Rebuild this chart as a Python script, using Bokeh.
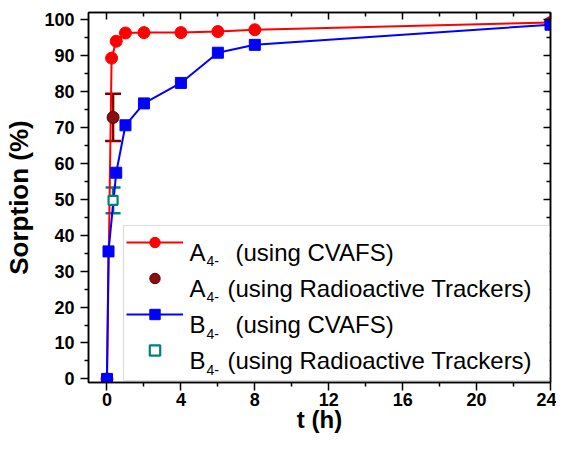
import numpy as np
from bokeh.plotting import figure
from bokeh.models import (Range1d, LinearAxis, FixedTicker, Whisker, TeeHead,
                          ColumnDataSource, Legend, LegendItem, Label, BoxAnnotation,
                          CustomJSTickFormatter)
from bokeh.core.properties import value
from bokeh.embed import file_html
from bokeh.resources import INLINE

# ---------------- data ----------------
t_a_cvafs = [0, 0.25, 0.5, 1, 2, 4, 6, 8, 24]
sorp_a_cvafs = [0, 89.3, 94.0, 96.3, 96.4, 96.4, 96.7, 97.2, 99.2]
t_b_cvafs = [0, 0.083, 0.5, 1, 2, 4, 6, 8, 24]
sorp_b_cvafs = [0, 35.5, 57.4, 70.6, 76.7, 82.4, 90.8, 93.0, 98.6]
t_a_rad = [0.33]
sorp_a_rad = [72.8]
err_a_rad = [6.6]
t_b_rad = [0.33]
sorp_b_rad = [49.7]
err_b_rad = [3.6]

x_major = [0, 4, 8, 12, 16, 20, 24]
x_minor = [2, 6, 10, 14, 18, 22]
y_major = [0, 10, 20, 30, 40, 50, 60, 70, 80, 90, 100]
y_minor = [5, 15, 25, 35, 45, 55, 65, 75, 85, 95]

legend_letters = ["A", "A", "B", "B"]
legend_sub = "4-"
legend_texts = ["(using CVAFS)", "(using Radioactive Trackers)",
                "(using CVAFS)", "(using Radioactive Trackers)"]

FONT = "Liberation Sans"
RED = "#ff0000"
BLUE = "#0000ff"
DARKRED = "#800000"
TEAL = "#008080"

p = figure(width=556, height=435, x_range=Range1d(-1, 24), y_range=Range1d(-1, 102),
           output_backend="svg", toolbar_location=None,
           min_border_left=88, min_border_right=6, min_border_top=12, min_border_bottom=40)
p.xgrid.visible = False
p.ygrid.visible = False
p.outline_line_color = "black"
p.outline_line_width = 1.5
p.background_fill_color = "white"
p.border_fill_color = "white"

ticker_x = FixedTicker(ticks=x_major, minor_ticks=x_minor)
ticker_y = FixedTicker(ticks=y_major, minor_ticks=y_minor)

# main axes
xa = p.xaxis[0]
ya = p.yaxis[0]
for ax, tk in ((xa, ticker_x), (ya, ticker_y)):
    ax.ticker = tk
    ax.axis_line_width = 1.5
    ax.major_tick_line_width = 1.5
    ax.minor_tick_line_width = 1.5
    ax.major_tick_in = 0
    ax.major_tick_out = 8
    ax.minor_tick_in = 0
    ax.minor_tick_out = 4
    ax.major_label_text_font = FONT
    ax.major_label_text_font_style = "bold"
    ax.major_label_text_font_size = "18px"
    ax.major_label_text_color = "black"
    ax.axis_label_text_font = FONT
    ax.axis_label_text_font_style = "bold"
    ax.axis_label_text_color = "black"

xa.axis_label = "t (h)"
xa.axis_label_text_font_size = "24px"
xa.major_label_standoff = 2
xa.axis_label_standoff = -3
ya.axis_label = "Sorption (%)"
ya.axis_label_text_font_size = "26px"
ya.major_label_standoff = 6
ya.axis_label_standoff = 7

# mirrored axes with inward ticks, no labels
blank = CustomJSTickFormatter(code="return ''")
top = LinearAxis(ticker=FixedTicker(ticks=x_major, minor_ticks=x_minor), formatter=blank)
right = LinearAxis(ticker=FixedTicker(ticks=y_major, minor_ticks=y_minor), formatter=blank)
for ax in (top, right):
    ax.axis_line_width = 1.5
    ax.major_tick_line_width = 1.5
    ax.minor_tick_line_width = 1.5
    ax.major_tick_in = 7
    ax.major_tick_out = 0
    ax.minor_tick_in = 4
    ax.minor_tick_out = 0
    ax.major_label_text_font_size = "1px"
    ax.major_label_standoff = 0
    ax.axis_label_standoff = 0
p.add_layout(top, "above")
p.add_layout(right, "right")

# data series
src_a = ColumnDataSource(dict(t=t_a_cvafs, s=sorp_a_cvafs))
src_b = ColumnDataSource(dict(t=t_b_cvafs, s=sorp_b_cvafs))
la = p.line("t", "s", source=src_a, line_color=RED, line_width=2)
ma = p.scatter("t", "s", source=src_a, marker="circle", size=12, fill_color=RED, line_color=RED)
lb = p.line("t", "s", source=src_b, line_color=BLUE, line_width=2)
mb = p.scatter("t", "s", source=src_b, marker="square", size=11, fill_color=BLUE, line_color=BLUE)

src_ar = ColumnDataSource(dict(t=t_a_rad, s=sorp_a_rad,
                               up=[v + e for v, e in zip(sorp_a_rad, err_a_rad)],
                               lo=[v - e for v, e in zip(sorp_a_rad, err_a_rad)]))
src_br = ColumnDataSource(dict(t=t_b_rad, s=sorp_b_rad,
                               up=[v + e for v, e in zip(sorp_b_rad, err_b_rad)],
                               lo=[v - e for v, e in zip(sorp_b_rad, err_b_rad)]))
wa = Whisker(source=src_ar, base="t", upper="up", lower="lo", dimension="height",
             line_color=DARKRED, line_width=2.5,
             upper_head=TeeHead(size=16, line_color=DARKRED, line_width=2.5),
             lower_head=TeeHead(size=16, line_color=DARKRED, line_width=2.5))
wb = Whisker(source=src_br, base="t", upper="up", lower="lo", dimension="height",
             line_color=TEAL, line_width=2.5,
             upper_head=TeeHead(size=15, line_color=TEAL, line_width=2.5),
             lower_head=TeeHead(size=15, line_color=TEAL, line_width=2.5))
p.add_layout(wa)
p.add_layout(wb)
mar = p.scatter("t", "s", source=src_ar, marker="circle", size=12,
                fill_color="#8a1010", line_color="#5a0000", line_width=1)
mbr = p.scatter("t", "s", source=src_br, marker="square", size=9,
                fill_color="white", line_color=TEAL, line_width=2.2)

# legend frame
box = BoxAnnotation(left=123, right=549, top=225, bottom=380,
                    left_units="canvas", right_units="canvas",
                    top_units="canvas", bottom_units="canvas",
                    fill_color="white", fill_alpha=1.0,
                    line_color="#8c8c8c", line_width=1.2)
p.add_layout(box)

legend = Legend(items=[
    LegendItem(label=value(" "), renderers=[la, ma]),
    LegendItem(label=value(" "), renderers=[mar]),
    LegendItem(label=value(" "), renderers=[lb, mb]),
    LegendItem(label=value(" "), renderers=[mbr]),
], location=(34, 15), glyph_width=57, glyph_height=26, label_height=26,
   spacing=10, padding=4, margin=0, label_standoff=0, label_width=0,
   border_line_alpha=0, background_fill_alpha=0)
p.add_layout(legend)

row_base = [251.7, 287.6, 324.0, 360.2]
text_x = [235, 227, 235, 227]
for i in range(4):
    p.add_layout(Label(x=189, y=row_base[i], x_units="canvas", y_units="canvas",
                       text=legend_letters[i], text_font=FONT, text_font_size="24px",
                       text_baseline="alphabetic", text_color="black"))
    p.add_layout(Label(x=206, y=row_base[i] + 9, x_units="canvas", y_units="canvas",
                       text=legend_sub, text_font=FONT, text_font_size="14px",
                       text_baseline="alphabetic", text_color="black"))
    p.add_layout(Label(x=text_x[i], y=row_base[i], x_units="canvas", y_units="canvas",
                       text=legend_texts[i], text_font=FONT, text_font_size="24px",
                       text_baseline="alphabetic", text_color="black"))

open("out.html", "w").write(file_html(p, INLINE))
